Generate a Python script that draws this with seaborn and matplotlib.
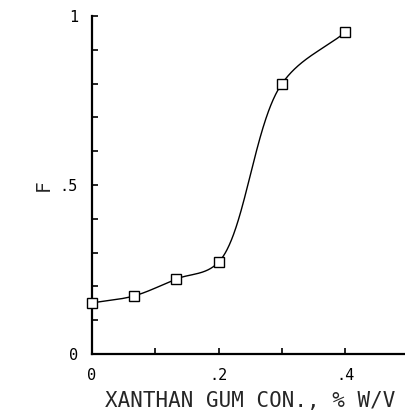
import numpy as np
import pandas as pd
import matplotlib
matplotlib.use("Agg")
import matplotlib.pyplot as plt
import seaborn as sns

# Data
conc = [0.0, 0.0667, 0.1333, 0.2, 0.3, 0.4]
F_vals = [0.151, 0.172, 0.222, 0.272, 0.80, 0.952]
x_ticks = [0, 0.1, 0.2, 0.3, 0.4]
x_ticklabels = ["0", "", ".2", "", ".4"]
y_ticks = [0, 0.1, 0.2, 0.3, 0.4, 0.5, 0.6, 0.7, 0.8, 0.9, 1.0]
y_ticklabels = ["0", "", "", "", "", ".5", "", "", "", "", "1"]


def catmull_rom(P, alpha=0.5, n=150):
    """Centripetal Catmull-Rom smooth curve through points P (display units)."""
    P = np.asarray(P, float)
    ext = np.vstack([2 * P[0] - P[1], P, 2 * P[-1] - P[-2]])
    segs = []
    for i in range(1, len(ext) - 2):
        p0, p1, p2, p3 = ext[i - 1], ext[i], ext[i + 1], ext[i + 2]
        t0 = 0.0
        t1 = t0 + np.linalg.norm(p1 - p0) ** alpha
        t2 = t1 + np.linalg.norm(p2 - p1) ** alpha
        t3 = t2 + np.linalg.norm(p3 - p2) ** alpha
        t = np.linspace(t1, t2, n)[:, None]
        A1 = (t1 - t) / (t1 - t0) * p0 + (t - t0) / (t1 - t0) * p1
        A2 = (t2 - t) / (t2 - t1) * p1 + (t - t1) / (t2 - t1) * p2
        A3 = (t3 - t) / (t3 - t2) * p2 + (t - t2) / (t3 - t2) * p3
        B1 = (t2 - t) / (t2 - t0) * A1 + (t - t0) / (t2 - t0) * A2
        B2 = (t3 - t) / (t3 - t1) * A2 + (t - t1) / (t3 - t1) * A3
        segs.append((t2 - t) / (t2 - t1) * B1 + (t - t1) / (t2 - t1) * B2)
    return np.vstack(segs)


sns.set_style("ticks")
plt.rcParams["font.family"] = ["DejaVu Sans Mono"]

fig = plt.figure(figsize=(4.06, 4.13), dpi=100)
ax = fig.add_axes([0.2266, 0.1429, 0.78, 0.8184])
ax.set_xlim(0, 0.5)
ax.set_ylim(0, 1)

# smooth curve through the data, built in display-proportional units
sx = fig.get_figwidth() * 100 * 0.78 / 0.5
sy = fig.get_figheight() * 100 * 0.8184 / 1.0
C = catmull_rom(np.c_[np.asarray(conc) * sx, np.asarray(F_vals) * sy])
curve = pd.DataFrame({"x": C[:, 0] / sx, "y": C[:, 1] / sy})
pts = pd.DataFrame({"x": conc, "y": F_vals})

sns.lineplot(data=curve, x="x", y="y", ax=ax, color="black", linewidth=1.0,
             sort=False, estimator=None)
ax.plot(pts["x"], pts["y"], linestyle="none", marker="s", markersize=7.5,
        markerfacecolor="white", markeredgecolor="black", markeredgewidth=1.0,
        clip_on=False, zorder=5)

ax.set_xlim(0, 0.5)
ax.set_ylim(0, 1)
ax.set_xticks(x_ticks)
ax.set_xticklabels(x_ticklabels)
ax.set_yticks(y_ticks)
ax.set_yticklabels(y_ticklabels)
ax.tick_params(direction="in", length=4, width=1.2, colors="black",
               labelsize=11)
ax.tick_params(axis="x", pad=10)
ax.tick_params(axis="y", pad=10)

for side in ["top", "right"]:
    ax.spines[side].set_visible(False)
for side in ["left", "bottom"]:
    ax.spines[side].set_linewidth(1.6)
    ax.spines[side].set_color("black")

ax.set_xlabel("XANTHAN GUM CON., % W/V", fontsize=15, labelpad=6)
ax.set_ylabel("F", fontsize=14, labelpad=5)
ax.set_facecolor("white")
fig.patch.set_facecolor("white")

fig.savefig("out.png", dpi=100)
